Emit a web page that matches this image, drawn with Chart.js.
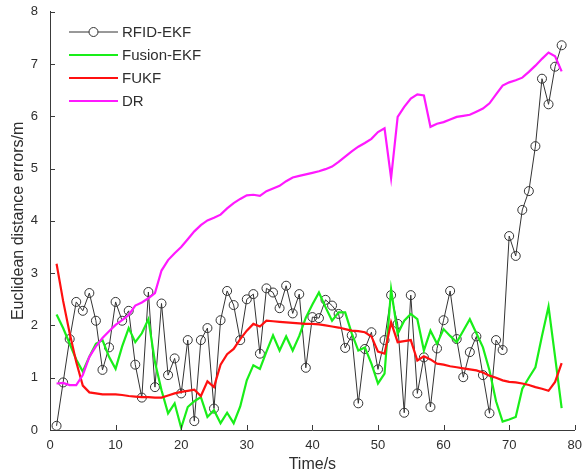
<!DOCTYPE html>
<html>
<head>
<meta charset="utf-8">
<script src="https://cdn.jsdelivr.net/npm/chart.js@4.4.0/dist/chart.umd.min.js"></script>
<style>
  html, body { margin: 0; padding: 0; background: #fff; }
  #wrap { width: 582px; height: 474px; }
</style>
</head>
<body>
<div id="wrap"><canvas id="errChart" width="582" height="474"></canvas></div>
<script>
// Time stamps (s)
const times = [
   1,  2,  3,  4,  5,  6,  7,  8,  9, 10, 11, 12, 13, 14, 15, 16, 17, 18, 19, 20,
  21, 22, 23, 24, 25, 26, 27, 28, 29, 30, 31, 32, 33, 34, 35, 36, 37, 38, 39, 40,
  41, 42, 43, 44, 45, 46, 47, 48, 49, 50, 51, 52, 53, 54, 55, 56, 57, 58, 59, 60,
  61, 62, 63, 64, 65, 66, 67, 68, 69, 70, 71, 72, 73, 74, 75, 76, 77, 78
];

// Euclidean distance errors (m) per method
const rfidEkf = [
  0.08, 0.91, 1.74, 2.45, 2.28, 2.62, 2.09, 1.15, 1.58, 2.45,
  2.09, 2.28, 1.25, 0.62, 2.64, 0.82, 2.42, 1.05, 1.37, 0.70,
  1.72, 0.17, 1.72, 1.95, 0.41, 2.10, 2.66, 2.39, 1.72, 2.50,
  2.60, 1.46, 2.71, 2.63, 2.33, 2.76, 2.23, 2.60, 1.19, 2.16,
  2.14, 2.49, 2.38, 2.22, 1.57, 1.81, 0.51, 1.55, 1.87, 1.16,
  1.72, 2.58, 2.03, 0.33, 2.58, 0.70, 1.39, 0.44, 1.56, 2.10,
  2.66, 1.74, 1.01, 1.49, 1.79, 1.05, 0.32, 1.72, 1.53, 3.71,
  3.33, 4.21, 4.57, 5.43, 6.72, 6.23, 6.95, 7.36
];
const fusionEkf = [
  2.21, 1.95, 1.65, 1.35, 1.12, 1.40, 1.65, 1.72, 1.40, 1.17,
  1.60, 1.95, 1.68, 1.85, 2.12, 1.30, 0.76, 0.32, 0.51, 0.04,
  0.44, 0.55, 0.63, 0.25, 0.38, 0.13, 0.33, 0.13, 0.45, 0.95,
  1.24, 1.17, 1.50, 1.81, 1.52, 1.79, 1.52, 1.80, 2.15, 2.40,
  2.63, 2.35, 2.09, 2.25, 2.25, 1.85, 1.52, 1.58, 1.27, 0.89,
  1.08, 2.69, 1.84, 2.09, 2.22, 2.12, 1.52, 1.90, 1.65, 1.93,
  1.80, 1.68, 1.90, 2.12, 1.85, 1.58, 1.14, 0.55, 0.16, 0.20,
  0.25, 0.79, 1.00, 1.20, 1.80, 2.36, 1.40, 0.42
];
const fukf = [
  3.18, 2.47, 1.85, 1.30, 0.85, 0.72, 0.70, 0.68, 0.68, 0.68,
  0.67, 0.65, 0.64, 0.63, 0.63, 0.62, 0.62, 0.66, 0.70, 0.73,
  0.75, 0.77, 0.65, 0.93, 0.82, 1.25, 1.45, 1.55, 1.74, 1.90,
  2.03, 1.98, 2.09, 2.08, 2.07, 2.06, 2.05, 2.04, 2.03, 2.03,
  2.02, 2.00, 1.98, 1.96, 1.93, 1.90, 1.89, 1.87, 1.79, 1.50,
  1.46, 2.06, 1.68, 1.70, 1.72, 1.33, 1.41, 1.35, 1.27, 1.25,
  1.22, 1.20, 1.18, 1.16, 1.14, 1.10, 1.04, 1.00, 0.95, 0.92,
  0.91, 0.89, 0.86, 0.82, 0.79, 0.75, 0.92, 1.28
];
const dr = [
  0.89, 0.90, 0.86, 0.86, 1.05, 1.40, 1.60, 1.76, 1.89, 2.01,
  2.10, 2.20, 2.38, 2.44, 2.52, 2.62, 3.05, 3.25, 3.38, 3.50,
  3.65, 3.80, 3.92, 4.01, 4.06, 4.12, 4.24, 4.34, 4.42, 4.49,
  4.50, 4.48, 4.57, 4.62, 4.67, 4.76, 4.83, 4.86, 4.89, 4.92,
  4.95, 4.99, 5.04, 5.13, 5.23, 5.33, 5.42, 5.49, 5.57, 5.70,
  5.77, 4.82, 5.99, 6.18, 6.34, 6.42, 6.40, 5.80, 5.86, 5.89,
  5.94, 5.99, 6.01, 6.03, 6.09, 6.15, 6.25, 6.42, 6.59, 6.65,
  6.69, 6.74, 6.85, 6.97, 7.10, 7.22, 7.15, 6.86
];

const seriesNames = ['RFID-EKF', 'Fusion-EKF', 'FUKF', 'DR'];
const xTickValues = [0, 10, 20, 30, 40, 50, 60, 70, 80];
const yTickValues = [0, 1, 2, 3, 4, 5, 6, 7, 8];

const FONT = 'Arial, "Liberation Sans", sans-serif';
const TEXT = '#2e2e2e';
const AXIS = '#3a3a3a';

const toPoints = (vals) => vals.map((v, i) => ({ x: times[i], y: v }));

// MATLAB-style ticks pointing into the plot
const inwardTicks = {
  id: 'inwardTicks',
  afterDraw(chart) {
    const { ctx, chartArea, scales } = chart;
    ctx.save();
    ctx.strokeStyle = AXIS;
    ctx.lineWidth = 1;
    ctx.beginPath();
    xTickValues.forEach(v => {
      const px = Math.round(scales.x.getPixelForValue(v)) + 0.5;
      ctx.moveTo(px, chartArea.bottom);
      ctx.lineTo(px, chartArea.bottom - 5);
    });
    yTickValues.forEach(v => {
      const py = Math.round(scales.y.getPixelForValue(v)) + 0.5;
      ctx.moveTo(chartArea.left, py);
      ctx.lineTo(chartArea.left + 5, py);
    });
    ctx.stroke();
    ctx.restore();
  }
};

// legend in the upper-left corner of the axes, no frame
const cornerLegend = {
  id: 'cornerLegend',
  afterDraw(chart) {
    const { ctx } = chart;
    const x0 = 69, x1 = 118, top = 32, step = 23;
    ctx.save();
    ctx.font = '15px ' + FONT;
    ctx.textBaseline = 'middle';
    chart.data.datasets.forEach((ds, i) => {
      const y = top + i * step;
      ctx.strokeStyle = ds.borderColor;
      ctx.lineWidth = ds.borderWidth;
      ctx.beginPath();
      ctx.moveTo(x0, y);
      ctx.lineTo(x1, y);
      ctx.stroke();
      if (ds.pointRadius > 0) {
        ctx.lineWidth = 1;
        ctx.beginPath();
        ctx.arc((x0 + x1) / 2, y, ds.pointRadius, 0, Math.PI * 2);
        ctx.fillStyle = '#fff';
        ctx.fill();
        ctx.stroke();
      }
      ctx.fillStyle = TEXT;
      ctx.fillText(ds.label, x1 + 4, y + 1);
    });
    ctx.restore();
  }
};

new Chart(document.getElementById('errChart'), {
  type: 'line',
  data: {
    datasets: [
      {
        label: seriesNames[0],
        data: toPoints(rfidEkf),
        borderColor: '#333333',
        borderWidth: 1,
        pointRadius: 4.5,
        pointBorderWidth: 1,
        pointBorderColor: '#333333',
        pointBackgroundColor: 'rgba(255,255,255,0)',
        order: 4
      },
      {
        label: seriesNames[1],
        data: toPoints(fusionEkf),
        borderColor: '#19ee19',
        borderWidth: 2.2,
        pointRadius: 0,
        order: 3
      },
      {
        label: seriesNames[2],
        data: toPoints(fukf),
        borderColor: '#ff1010',
        borderWidth: 2.2,
        pointRadius: 0,
        order: 2
      },
      {
        label: seriesNames[3],
        data: toPoints(dr),
        borderColor: '#ff19ff',
        borderWidth: 2.2,
        pointRadius: 0,
        order: 1
      }
    ]
  },
  options: {
    responsive: false,
    animation: false,
    layout: { padding: { top: 10, right: 2, left: 0, bottom: 0 } },
    plugins: {
      legend: { display: false },
      tooltip: { enabled: false }
    },
    elements: { line: { tension: 0 } },
    scales: {
      x: {
        type: 'linear',
        min: 0,
        max: 80,
        afterBuildTicks: (s) => { s.ticks = xTickValues.map(v => ({ value: v })); },
        afterFit: (s) => { s.height = 44; },
        grid: { display: false },
        border: { display: true, color: AXIS, width: 1 },
        ticks: { color: TEXT, font: { family: FONT, size: 13 }, padding: 0, maxRotation: 0 },
        title: { display: true, text: 'Time/s', color: TEXT, font: { family: FONT, size: 16 }, padding: { top: 0, bottom: 0 } }
      },
      y: {
        type: 'linear',
        min: 0,
        max: 8,
        afterBuildTicks: (s) => { s.ticks = yTickValues.map(v => ({ value: v })); },
        afterFit: (s) => { s.width = 50; },
        grid: { display: false },
        border: { display: true, color: AXIS, width: 1 },
        ticks: { color: TEXT, font: { family: FONT, size: 13 }, padding: 4 },
        title: { display: true, text: 'Euclidean distance errors/m', color: TEXT, font: { family: FONT, size: 16 }, padding: { top: 9, bottom: 0 } }
      }
    }
  },
  plugins: [inwardTicks, cornerLegend]
});
</script>
</body>
</html>
